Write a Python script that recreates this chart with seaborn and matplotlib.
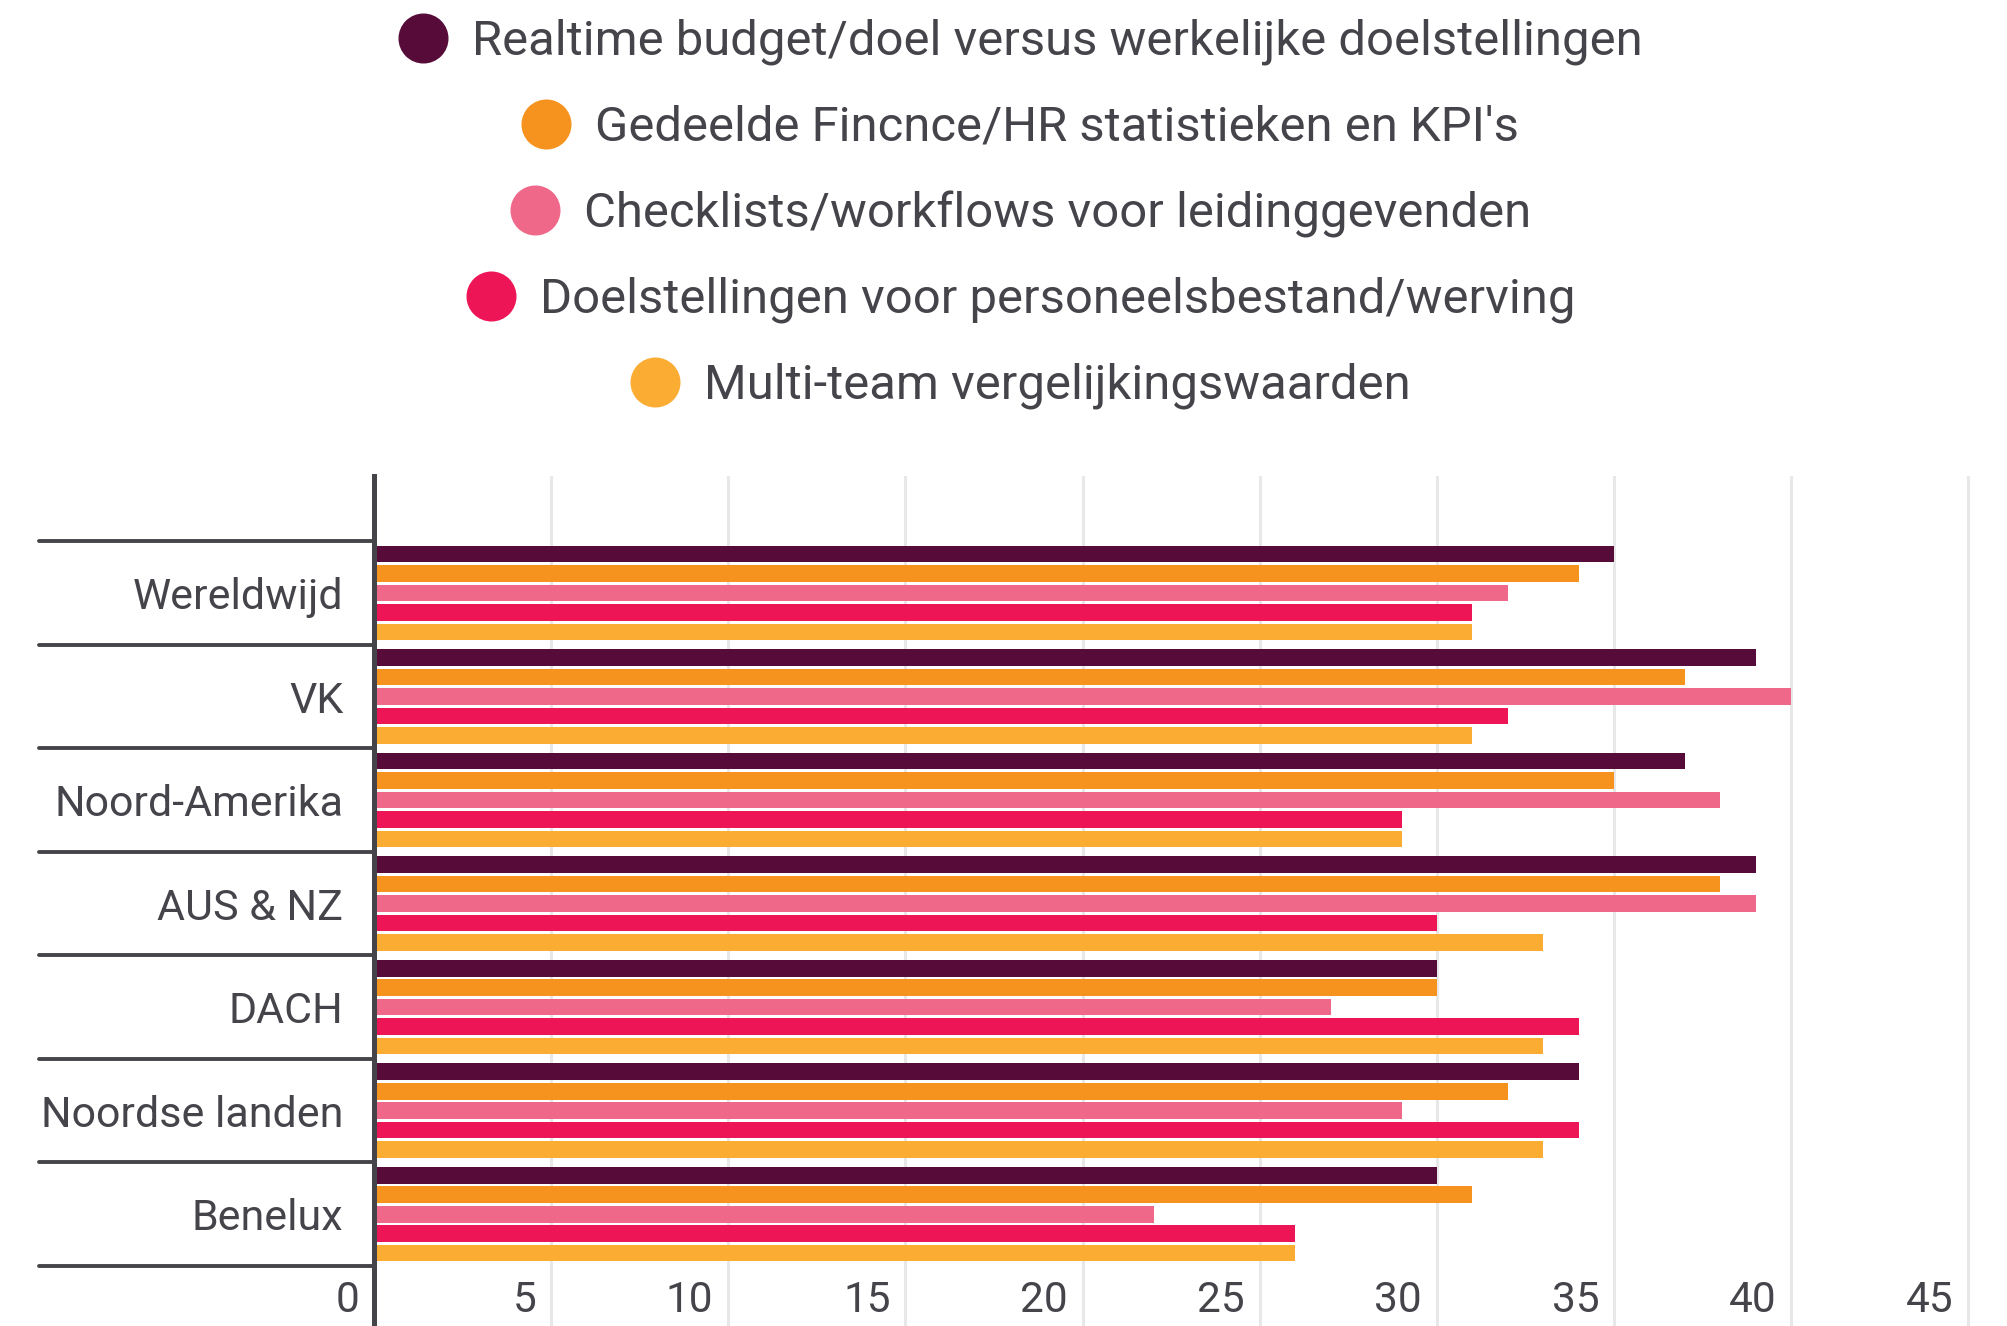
import matplotlib
matplotlib.use("Agg")
import matplotlib.pyplot as plt
import matplotlib.transforms as mtransforms
from matplotlib.lines import Line2D
import seaborn as sns
import pandas as pd

regions = ["Wereldwijd", "VK", "Noord-Amerika", "AUS & NZ", "DACH", "Noordse landen", "Benelux"]
series = [
    "Realtime budget/doel versus werkelijke doelstellingen",
    "Gedeelde Fincnce/HR statistieken en KPI's",
    "Checklists/workflows voor leidinggevenden",
    "Doelstellingen voor personeelsbestand/werving",
    "Multi-team vergelijkingswaarden",
]
realtime = [35, 39, 37, 39, 30, 34, 30]
gedeelde = [34, 37, 35, 38, 30, 32, 31]
checklists = [32, 40, 38, 39, 27, 29, 22]
doelstellingen = [31, 32, 29, 30, 34, 34, 26]
multiteam = [31, 31, 29, 33, 33, 33, 26]
xticks = [0, 5, 10, 15, 20, 25, 30, 35, 40, 45]
colors = ["#560B39", "#F6921E", "#F06889", "#EE1556", "#FBAD33"]

values = [realtime, gedeelde, checklists, doelstellingen, multiteam]
rows = []
for s, vals in zip(series, values):
    for r, v in zip(regions, vals):
        rows.append({"region": r, "series": s, "value": v})
df = pd.DataFrame(rows)

sns.set_theme(style="white")
plt.rcParams["font.family"] = ["Roboto", "DejaVu Sans"]
text_color = "#45444A"

fig = plt.figure(figsize=(20.08, 13.26), dpi=100)
ax = fig.add_axes([374 / 2008, 0.0, (1972 - 374) / 2008, 1 - 476 / 1326])

sns.barplot(data=df, y="region", x="value", hue="series", orient="h",
            palette=colors, width=0.94, gap=0.14, legend=False, ax=ax,
            order=regions, hue_order=series, saturation=1, errorbar=None,
            linewidth=0)

ax.set_xlim(0, 45.1)
ax.set_ylim(len(regions) - 1 + 0.5 + 0.58, -1.13)
ax.set_xlabel("")
ax.set_ylabel("")

# grid lines
for t in xticks[1:]:
    ax.axvline(t, color="#E8E8E8", lw=2.2, zorder=0)
ax.set_xticks([])
for sp in ["top", "right", "bottom"]:
    ax.spines[sp].set_visible(False)
ax.spines["left"].set_color(text_color)
ax.spines["left"].set_linewidth(3.6)
ax.spines["left"].set_zorder(5)

# category labels
ax.tick_params(axis="y", length=0, pad=22, labelsize=31, labelcolor=text_color)

# separators
for i in range(len(regions) + 1):
    ax.axhline(i - 0.5, xmin=-0.2095, xmax=0, color=text_color, lw=2.8,
               clip_on=False, zorder=4)

# x tick labels inside bottom
trans = mtransforms.blended_transform_factory(ax.transData, ax.transAxes)
off = mtransforms.ScaledTranslation(-0.15, 0, fig.dpi_scale_trans)
for t in xticks:
    ax.text(t, 0.03, str(t), transform=trans + off, ha="right", va="center",
            fontsize=30.5, color=text_color)

# legend: one centered row per series
ys = [42, 128, 214, 300, 386]
for s, c, y in zip(series, colors, ys):
    h = Line2D([], [], marker="o", linestyle="", markersize=35, color=c)
    fig.legend(handles=[h], labels=[s], loc="center",
               bbox_to_anchor=(0.5083, 1 - y / 1326), frameon=False,
               fontsize=35.3, labelcolor=text_color, handlelength=1.0,
               handletextpad=0.5, borderpad=0, borderaxespad=0)

fig.savefig("out.png", dpi=100)
